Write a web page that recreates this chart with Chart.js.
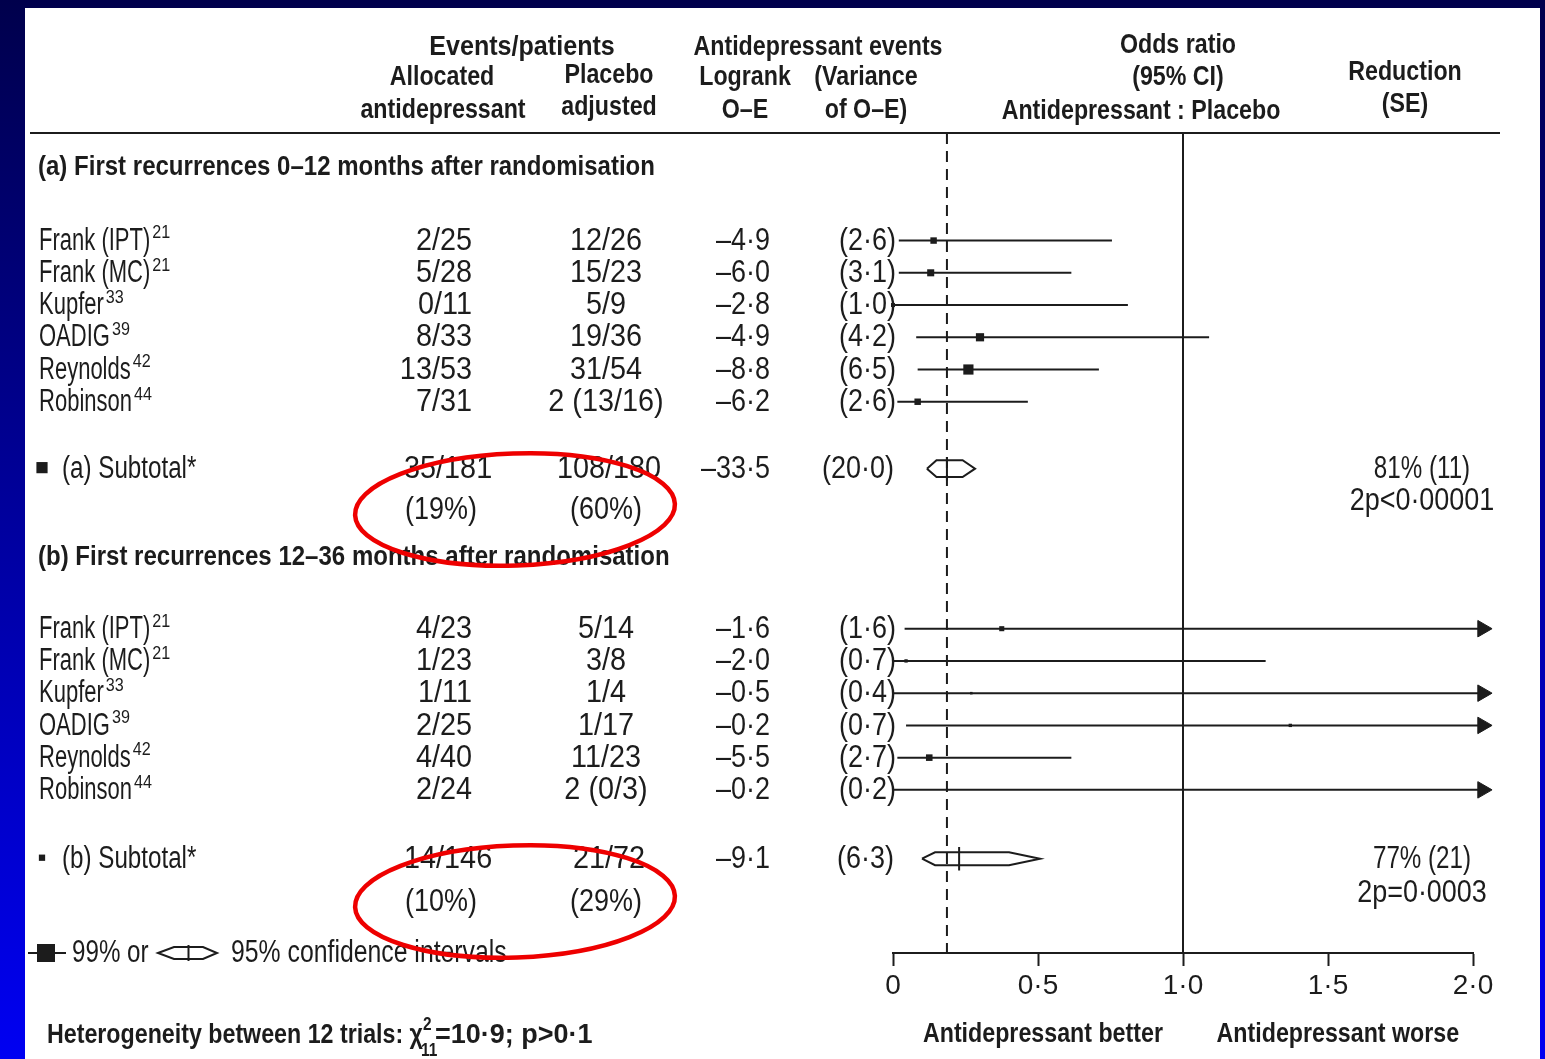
<!DOCTYPE html>
<html>
<head>
<meta charset="utf-8">
<script src="https://cdn.jsdelivr.net/npm/chart.js@4.4.0/dist/chart.umd.min.js"></script>
<style>
  html, body { margin: 0; padding: 0; }
  body {
    width: 1545px; height: 1059px; overflow: hidden; position: relative;
    background: linear-gradient(#00004c, #0000f2);
  }
  #panel { position: absolute; left: 25px; top: 8px; width: 1515px; height: 1051px; background: #fff; }
  #chart { position: absolute; left: 0; top: 0; }
</style>
</head>
<body>
<div id="panel"></div>
<canvas id="chart" width="1545" height="1059"></canvas>
<script>
// ---- data ----
const studies = ["Frank (IPT)", "Frank (MC)", "Kupfer", "OADIG", "Reynolds", "Robinson"];
const refs = ["21", "21", "33", "39", "42", "44"];

// (a) first recurrences 0-12 months
const aTreat = ["2/25", "5/28", "0/11", "8/33", "13/53", "7/31"];
const aPlacebo = ["12/26", "15/23", "5/9", "19/36", "31/54", "2 (13/16)"];
const aOE = [-4.9, -6.0, -2.8, -4.9, -8.8, -6.2];
const aVar = [2.6, 3.1, 1.0, 4.2, 6.5, 2.6];
const aOR = [0.14, 0.13, 0.0, 0.30, 0.26, 0.085];
const aLow = [0.02, 0.02, 0.0, 0.08, 0.085, 0.015];
const aHigh = [0.755, 0.615, 0.81, 1.09, 0.71, 0.465];

// (b) first recurrences 12-36 months (null high = runs off the scale)
const bTreat = ["4/23", "1/23", "1/11", "2/25", "4/40", "2/24"];
const bPlacebo = ["5/14", "3/8", "1/4", "1/17", "11/23", "2 (0/3)"];
const bOE = [-1.6, -2.0, -0.5, -0.2, -5.5, -0.2];
const bVar = [1.6, 0.7, 0.4, 0.7, 2.7, 0.2];
const bOR = [0.375, 0.045, 0.27, 1.37, 0.125, null];
const bLow = [0.04, 0.0, 0.0, 0.045, 0.015, 0.0];
const bHigh = [null, 1.285, null, null, 0.615, null];

// subtotals
const subLabels = ["(a) Subtotal*", "(b) Subtotal*"];
const subTreat = ["35/181", "14/146"];
const subTreatPct = ["(19%)", "(10%)"];
const subPlacebo = ["108/180", "21/72"];
const subPlaceboPct = ["(60%)", "(29%)"];
const subOE = [-33.5, -9.1];
const subVar = [20.0, 6.3];
const subOR = [0.186, 0.228];
const subOuterLo = [0.117, 0.10];
const subInnerLo = [0.15, 0.145];
const subInnerHi = [0.24, 0.40];
const subOuterHi = [0.283, 0.507];
const subReduction = ["81% (11)", "77% (21)"];
const subP = ["2p<0·00001", "2p=0·0003"];

const overallOR = 0.186;
const xTicks = [0, 0.5, 1.0, 1.5, 2.0];
const xTickLabels = ["0", "0·5", "1·0", "1·5", "2·0"];

// ---- layout ----
const INK = "#1c1c1c";
const FONT = '"Liberation Sans", Arial, sans-serif';
const ROW_STEP = 0.995;
const ROW = { headA: 1.05, a0: 3.32, subA: 10.36, pctA: 11.62, headB: 13.1, b0: 15.3, subB: 22.4, pctB: 23.72, max: 25.31 };
const ARROW_X = 2.033;

const rowsA = studies.map((_, i) => ROW.a0 + i * ROW_STEP);
const rowsB = studies.map((_, i) => ROW.b0 + i * ROW_STEP);

const fmt = v => (v < 0 ? "–" : "") + Math.abs(v).toFixed(1).replace(".", "·");

/* =========================
   DATASETS
========================== */
const datasets = [];

// reference lines
datasets.push({
    data: [{ x: 1, y: 0 }, { x: 1, y: ROW.max }],
    showLine: true, borderColor: INK, borderWidth: 2, pointRadius: 0, clip: false, order: 5
});
datasets.push({
    data: [{ x: overallOR, y: 0 }, { x: overallOR, y: ROW.max }],
    showLine: true, borderColor: INK, borderWidth: 2, borderDash: [11, 7], pointRadius: 0, clip: false, order: 5
});

// CI lines; an interval running off the scale ends in an arrowhead
function ciLines(lo, hi, rows) {
    rows.forEach((r, i) => {
        const off = hi[i] === null;
        datasets.push({
            data: [{ x: lo[i], y: r }, { x: off ? ARROW_X : hi[i], y: r }],
            showLine: true, borderColor: INK, borderWidth: 2,
            pointStyle: "triangle", pointRotation: 90,
            pointRadius: [0, off ? 9.5 : 0], pointHoverRadius: 0,
            pointBackgroundColor: INK, pointBorderColor: INK, pointBorderWidth: 1,
            clip: false, order: 3
        });
    });
}
ciLines(aLow, aHigh, rowsA);
ciLines(bLow, bHigh, rowsB);

// squares (size from variance)
const sqData = [], sqRadius = [];
[[aOR, aVar, rowsA], [bOR, bVar, rowsB]].forEach(([or, v, rows]) => {
    or.forEach((x, i) => {
        if (x === null) return;
        sqData.push({ x, y: rows[i] });
        sqRadius.push(Math.sqrt(v[i]) * 4.0 / Math.SQRT2);
    });
});
datasets.push({
    data: sqData, pointStyle: "rect", pointRadius: sqRadius,
    backgroundColor: INK, borderWidth: 0, clip: false, order: 1
});

// subtotal diamonds
const subRows = [ROW.subA, ROW.subB];
const subHalf = [0.26, 0.2];
subRows.forEach((r, i) => {
    const h = subHalf[i];
    datasets.push({
        data: [
            { x: subOuterLo[i], y: r }, { x: subInnerLo[i], y: r - h }, { x: subInnerHi[i], y: r - h },
            { x: subOuterHi[i], y: r }, { x: subInnerHi[i], y: r + h }, { x: subInnerLo[i], y: r + h },
            { x: subOuterLo[i], y: r }
        ],
        showLine: true, borderColor: INK, borderWidth: 2, pointRadius: 0, clip: false, order: 0
    });
    datasets.push({
        data: [{ x: subOR[i], y: r - 0.36 }, { x: subOR[i], y: r + 0.36 }],
        showLine: true, borderColor: INK, borderWidth: 2, pointRadius: 0, clip: false, order: 0
    });
});

/* =========================
   TEXT HELPERS
========================== */
const H = { size: 27, bold: true, sx: 0.86 };
const HEAD = { size: 27, bold: true, sx: 0.89 };
const NAME = { size: 31, sx: 0.71 };
const TXT = { size: 31, sx: 0.78 };
const FRAC = { size: 31, sx: 0.93 };
const NUM = { size: 31, sx: 0.87 };
const SUP = { size: 19, sx: 0.85 };

function txt(ctx, s, x, y, o, align) {
    ctx.save();
    ctx.font = (o.bold ? "bold " : "") + o.size + "px " + FONT;
    ctx.fillStyle = INK;
    ctx.textAlign = align || "left";
    ctx.textBaseline = "alphabetic";
    ctx.translate(x, y + o.size * 0.36);
    ctx.scale(o.sx, 1);
    ctx.fillText(s, 0, 0);
    const w = ctx.measureText(s).width * o.sx;
    ctx.restore();
    return w;
}

function hexSymbol(ctx, x0, x1, b0, b1, y, h) {
    ctx.beginPath();
    ctx.moveTo(x0, y); ctx.lineTo(b0, y - h); ctx.lineTo(b1, y - h);
    ctx.lineTo(x1, y); ctx.lineTo(b1, y + h); ctx.lineTo(b0, y + h); ctx.closePath();
    ctx.stroke();
    ctx.beginPath();
    ctx.moveTo((b0 + b1) / 2, y - h - 2); ctx.lineTo((b0 + b1) / 2, y + h + 2);
    ctx.stroke();
}

const tablePlugin = {
    id: "table",
    afterDraw(chart) {
        const ctx = chart.ctx;
        const ys = chart.scales.y, xs = chart.scales.x;
        const py = v => ys.getPixelForValue(v) - 2;

        // header rule
        ctx.save();
        ctx.strokeStyle = INK; ctx.lineWidth = 2;
        ctx.beginPath(); ctx.moveTo(30, chart.chartArea.top); ctx.lineTo(1500, chart.chartArea.top); ctx.stroke();
        ctx.restore();

        // column headers
        txt(ctx, "Events/patients", 522, 45, { size: 27, bold: true, sx: 0.93 }, "center");
        txt(ctx, "Allocated", 442, 75, H, "center");
        txt(ctx, "antidepressant", 443, 108, H, "center");
        txt(ctx, "Placebo", 609, 73, H, "center");
        txt(ctx, "adjusted", 609, 105, H, "center");
        txt(ctx, "Antidepressant events", 818, 45, H, "center");
        txt(ctx, "Logrank", 745, 75, H, "center");
        txt(ctx, "O–E", 745, 108, H, "center");
        txt(ctx, "(Variance", 866, 75, H, "center");
        txt(ctx, "of O–E)", 866, 108, H, "center");
        txt(ctx, "Odds ratio", 1178, 43, H, "center");
        txt(ctx, "(95% CI)", 1178, 75, H, "center");
        txt(ctx, "Antidepressant : Placebo", 1141, 109, H, "center");
        txt(ctx, "Reduction", 1405, 70, H, "center");
        txt(ctx, "(SE)", 1405, 102, H, "center");

        // section headings
        txt(ctx, "(a) First recurrences 0–12 months after randomisation", 38, py(ROW.headA), HEAD);
        txt(ctx, "(b) First recurrences 12–36 months after randomisation", 38, py(ROW.headB), HEAD);

        // trial rows
        const blocks = [
            [rowsA, aTreat, aPlacebo, aOE, aVar],
            [rowsB, bTreat, bPlacebo, bOE, bVar]
        ];
        blocks.forEach(([rows, tr, pl, oe, va]) => {
            rows.forEach((r, i) => {
                const y = py(r);
                const w = txt(ctx, studies[i], 39, y, NAME);
                txt(ctx, refs[i], 39 + w + 2, y - 7, SUP);
                txt(ctx, tr[i], 472, y, FRAC, "right");
                txt(ctx, pl[i], 606, y, FRAC, "center");
                txt(ctx, fmt(oe[i]), 770, y, NUM, "right");
                txt(ctx, "(" + fmt(va[i]) + ")", 896, y, NUM, "right");
            });
        });

        // subtotals
        subRows.forEach((r, i) => {
            const y = py(r), y2 = py([ROW.pctA, ROW.pctB][i]);
            const s = Math.sqrt(subVar[i]) * 2.5;
            ctx.fillStyle = INK;
            ctx.fillRect(42 - s / 2, y - s / 2 + 1, s, s);
            txt(ctx, subLabels[i], 62, y, TXT);
            txt(ctx, subTreat[i], 404, y, FRAC);
            txt(ctx, subTreatPct[i], 405, y2, NUM);
            txt(ctx, subPlacebo[i], 609, y, FRAC, "center");
            txt(ctx, subPlaceboPct[i], 606, y2, NUM, "center");
            txt(ctx, fmt(subOE[i]), 770, y, NUM, "right");
            txt(ctx, "(" + fmt(subVar[i]) + ")", 894, y, NUM, "right");
            txt(ctx, subReduction[i], 1422, y, TXT, "center");
            txt(ctx, subP[i], 1422, y2 - 9, NUM, "center");
        });

        // legend
        ctx.save();
        ctx.strokeStyle = INK; ctx.fillStyle = INK; ctx.lineWidth = 2;
        ctx.beginPath(); ctx.moveTo(28, 953); ctx.lineTo(66, 953); ctx.stroke();
        ctx.fillRect(37, 944, 18, 18);
        hexSymbol(ctx, 158, 217, 174, 203, 953, 6);
        ctx.restore();
        txt(ctx, "99% or", 72, 951, TXT);
        txt(ctx, "95% confidence intervals", 231, 951, { size: 31, sx: 0.8 });

        // heterogeneity
        let hx = 47;
        hx += txt(ctx, "Heterogeneity between 12 trials: χ", hx, 1033, H);
        txt(ctx, "2", hx, 1024, { size: 18, bold: true, sx: 0.86 });
        txt(ctx, "11", hx - 2, 1050, { size: 18, bold: true, sx: 0.86 });
        txt(ctx, "=10·9; p>0·1", hx + 12, 1033, { size: 27, bold: true, sx: 1.0 });

        // axis captions
        txt(ctx, "Antidepressant better", xs.getPixelForValue(0.517), 1032, H, "center");
        txt(ctx, "Antidepressant worse", xs.getPixelForValue(1.534), 1032, H, "center");

        // red annotation ellipses
        ctx.save();
        ctx.strokeStyle = "#ee0000"; ctx.lineWidth = 4.5;
        [ROW.pctA, ROW.pctB].forEach(r => {
            ctx.beginPath();
            ctx.ellipse(515, ys.getPixelForValue(r), 160, 56, -0.035, 0, Math.PI * 2);
            ctx.stroke();
        });
        ctx.restore();
    }
};

/* =========================
   CHART
========================== */
new Chart(document.getElementById("chart").getContext("2d"), {
    type: "scatter",
    data: { datasets },
    options: {
        responsive: false,
        animation: false,
        events: [],
        layout: { padding: { left: 893, right: 72, top: 133, bottom: 56 } },
        plugins: { legend: { display: false }, tooltip: { enabled: false } },
        scales: {
            x: {
                type: "linear", min: 0, max: 2, position: "bottom",
                afterBuildTicks: s => { s.ticks = xTicks.map(v => ({ value: v })); },
                afterFit: s => { s.height = 50; },
                ticks: {
                    autoSkip: false, maxRotation: 0, padding: 3, color: INK,
                    font: { family: FONT, size: 28 },
                    callback: (v, i) => xTickLabels[i]
                },
                grid: { drawOnChartArea: false, drawTicks: true, tickLength: 13, tickWidth: 2, tickColor: INK },
                border: { display: true, color: INK, width: 2 }
            },
            y: { type: "linear", min: 0, max: ROW.max, reverse: true, display: false }
        }
    },
    plugins: [tablePlugin]
});
</script>
</body>
</html>
